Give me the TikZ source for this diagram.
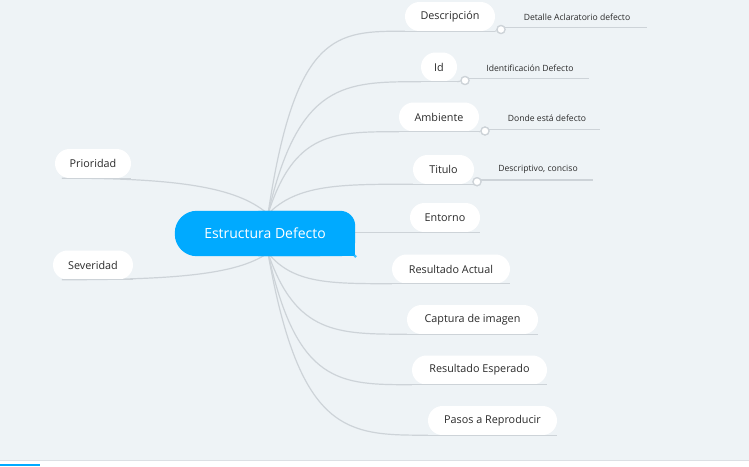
\documentclass[tikz,border=0pt]{standalone}
\usepackage{fontspec}
\setmainfont{Open Sans}
\usetikzlibrary{calc}
\definecolor{bg}{HTML}{EEF3F6}
\definecolor{ln}{HTML}{CDD3D8}
\definecolor{blu}{HTML}{00AAFF}
\definecolor{txt}{HTML}{2A2A2A}
\pgfdeclarelayer{back}
\pgfdeclarelayer{lconn}
\pgfdeclarelayer{lshape}
\pgfsetlayers{back,lconn,lshape,main}
\newcommand\mybranch[2]{%
  \path ($(#1)!0.2!(#2)$) coordinate (tmpa) ($(#1)!0.5!(#2)$) coordinate (tmpb);
  \draw[conn] (#1) .. controls (tmpa |- #2) and (tmpb |- #2) .. (#2);}
\begin{document}
\begin{tikzpicture}[x=1pt,y=-1pt,
  pill/.style={fill=white, rounded corners=14.5pt, minimum height=29pt, inner sep=0pt, font=\fontsize{10.8}{12}\selectfont, text=txt},
  det/.style={font=\fontsize{8.6}{10}\selectfont, text=txt, inner sep=0pt},
  conn/.style={draw=ln, line width=1.2pt},
  dotc/.style={circle, draw=ln, fill=white, line width=1.2pt, minimum size=8pt, inner sep=0pt}]
\useasboundingbox (0,0) rectangle (749,466);
\begin{pgfonlayer}{back}
\fill[bg] (0,0) rectangle (749,466);
\fill[white] (0,460) rectangle (749,466);
\draw[ln!70, line width=1pt] (0,460) -- (749,460);
\fill[blu] (0,464) rectangle (40,466);
\end{pgfonlayer}

% central node
\node[minimum width=180pt, minimum height=45pt, inner sep=0pt, text=white, font=\fontsize{14}{16}\selectfont] (ctr) at (265,233.5) {Estructura Defecto};
\begin{pgfonlayer}{lshape}
\fill[blu, rounded corners=22pt] (ctr.north west) rectangle ([xshift=-15pt]ctr.south east);
\fill[blu, rounded corners=15pt] ([xshift=-110pt]ctr.north east) rectangle (ctr.south east);
\fill[blu] ([xshift=-50pt,yshift=20pt]ctr.south east) rectangle (ctr.south east);
\fill[blu!75!white] (ctr.south east) circle[radius=1.6pt];
\end{pgfonlayer}
\coordinate (ctop) at (268,214);
\coordinate (cbot) at (268,253);

% right nodes
\node[pill, minimum width=90pt] (desc) at (450,16.5) {Descripción};
\node[pill, minimum width=36pt] (id) at (439,67) {Id};
\node[pill, minimum width=80pt] (amb) at (439,117) {Ambiente};
\node[pill, minimum width=61pt] (tit) at (443.5,169.5) {Titulo};
\node[pill, minimum width=70pt] (ent) at (445,217.5) {Entorno};
\node[pill, minimum width=118pt] (ra) at (451,269) {Resultado Actual};
\node[pill, minimum width=131pt] (cap) at (472.5,319.5) {Captura de imagen};
\node[pill, minimum width=135pt] (re) at (479.5,370) {Resultado Esperado};
\node[pill, minimum width=129pt] (pasos) at (492.5,420.5) {Pasos a Reproducir};
% left nodes
\node[pill, minimum width=76pt] (prio) at (93,163.5) {Prioridad};
\node[pill, minimum width=80pt] (sev) at (93,265) {Severidad};

% detail dots, ends and texts
\node[dotc] (ddesc) at (501,29.5) {};
\coordinate (edesc) at (647,27.5);
\node[det] (tdesc) at (577,17) {Detalle Aclaratorio defecto};
\node[dotc] (did) at (465,80.5) {};
\coordinate (eid) at (589,78.7);
\node[det] (tid) at (530,68) {Identificación Defecto};
\node[dotc] (damb) at (485,131) {};
\coordinate (eamb) at (600,129.3);
\node[det] (tamb) at (547,118) {Donde está defecto};
\node[dotc] (dtit) at (477,181.7) {};
\coordinate (etit) at (593,180);
\node[det] (ttit) at (538,169) {Descriptivo, conciso};

\begin{pgfonlayer}{lconn}
\mybranch{ctop}{desc.south west}
\mybranch{ctop}{id.south west}
\mybranch{ctop}{amb.south west}
\mybranch{ctop}{tit.south west}
\mybranch{cbot}{ra.south west}
\mybranch{cbot}{cap.south west}
\mybranch{cbot}{re.south west}
\mybranch{cbot}{pasos.south west}
\draw[conn] (ctr.east |- ent.south) -- (ent.south west);
\draw[conn] ([xshift=7pt]prio.south west) .. controls (190,178) and (240,190) .. (ctop);
\draw[conn] ([xshift=9pt]sev.south west) .. controls (190,280) and (240,272) .. (cbot);
\draw[conn] (ddesc.center |- edesc) -- (edesc);
\draw[conn] (did.center |- eid) -- (eid);
\draw[conn] (damb.center |- eamb) -- (eamb);
\draw[conn] (dtit.center |- etit) -- (etit);
\end{pgfonlayer}

% underlines on top of pills
\foreach \n in {desc,id,amb,tit,ent,ra,cap,re,pasos}
  \draw[conn] (\n.south west) -- (\n.south east);
\draw[conn] (desc.south east) -- (ddesc);
\draw[conn] (id.south east) -- (did);
\draw[conn] (amb.south east) -- (damb);
\draw[conn] (tit.south east) -- (dtit);
\draw[conn] ([xshift=7pt]prio.south west) -- (prio.south east);
\draw[conn] ([xshift=9pt]sev.south west) -- (sev.south east);
\node[dotc] at (ddesc) {};
\node[dotc] at (did) {};
\node[dotc] at (damb) {};
\node[dotc] at (dtit) {};
\end{tikzpicture}
\end{document}
